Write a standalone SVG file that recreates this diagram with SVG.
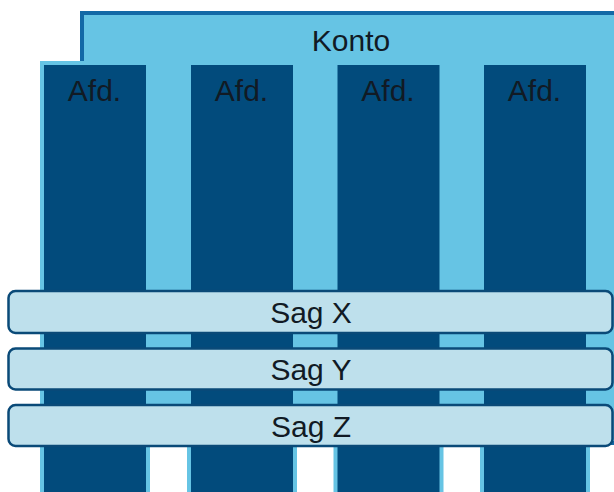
<svg xmlns="http://www.w3.org/2000/svg" width="614" height="492" viewBox="0 0 614 492">
<style>
.lbl{font-family:"Liberation Sans",Arial,sans-serif;font-size:30px;fill:#111a24;text-anchor:middle}
.pad{fill:#66c4e4}
.col{fill:#024b7c}
.sag{fill:#bee0ec;stroke:#0a4a78;stroke-width:2.5}
</style>
<rect width="614" height="492" fill="#ffffff"/>
<g id="konto">
<rect x="82" y="13" width="560" height="430" fill="#66c4e4" stroke="#1369a6" stroke-width="4"/>
<text class="lbl" x="351" y="51">Konto</text>
</g>
<g id="afd1">
<rect class="pad" x="40" y="61" width="110" height="440"/>
<rect class="col" x="44" y="65" width="102" height="440"/>
<text class="lbl" x="94.5" y="100.5">Afd.</text>
</g>
<g id="afd2">
<rect class="pad" x="187" y="61" width="110" height="440"/>
<rect class="col" x="191" y="65" width="102" height="440"/>
<text class="lbl" x="241.5" y="100.5">Afd.</text>
</g>
<g id="afd3">
<rect class="pad" x="333.5" y="61" width="110" height="440"/>
<rect class="col" x="337.5" y="65" width="102" height="440"/>
<text class="lbl" x="388" y="100.5">Afd.</text>
</g>
<g id="afd4">
<rect class="pad" x="480" y="61" width="110" height="440"/>
<rect class="col" x="484" y="65" width="102" height="440"/>
<text class="lbl" x="534.5" y="100.5">Afd.</text>
</g>
<g id="sagX">
<rect class="sag" x="8.5" y="291" width="604" height="42" rx="7"/>
<text class="lbl" x="311" y="322.5">Sag X</text>
</g>
<g id="sagY">
<rect class="sag" x="8.5" y="348.5" width="604" height="41" rx="7"/>
<text class="lbl" x="311" y="379.5">Sag Y</text>
</g>
<g id="sagZ">
<rect class="sag" x="8.5" y="405" width="604" height="41" rx="7"/>
<text class="lbl" x="311" y="437">Sag Z</text>
</g>
</svg>
